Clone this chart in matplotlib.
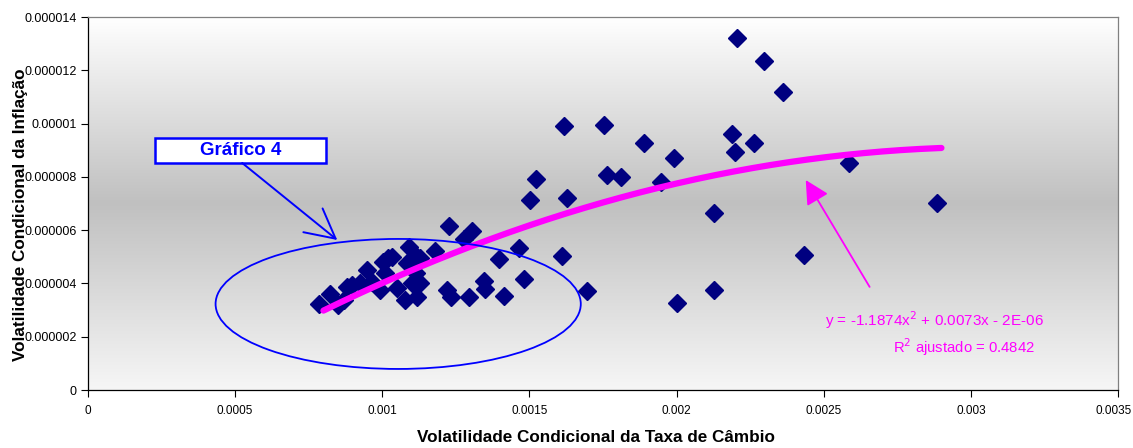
import numpy as np
import matplotlib
matplotlib.use("Agg")
import matplotlib.pyplot as plt
from matplotlib.patches import Ellipse, Rectangle
from matplotlib.colors import LinearSegmentedColormap
from matplotlib.transforms import ScaledTranslation

plt.rcParams['font.family'] = ['Liberation Sans', 'DejaVu Sans']

# Exchange-rate conditional volatility (x) and inflation conditional volatility (y)
cambio = [0.000786, 0.000823, 0.000850, 0.000871, 0.000881, 0.000898, 0.000925, 0.000949,
          0.000966, 0.000993, 0.001003, 0.001010, 0.001020, 0.001034, 0.001051, 0.001078,
          0.001085, 0.001092, 0.001102, 0.001116, 0.001119, 0.001119, 0.001129, 0.001129,
          0.001180, 0.001228, 0.001221, 0.001235, 0.001276, 0.001306, 0.001296, 0.001344,
          0.001350, 0.001395, 0.001415, 0.001463, 0.001483, 0.001503, 0.001524, 0.001612,
          0.001616, 0.001629, 0.001697, 0.001752, 0.001762, 0.001810, 0.001888, 0.001946,
          0.001990, 0.002003, 0.002126, 0.002126, 0.002190, 0.002197, 0.002204, 0.002262,
          0.002296, 0.002361, 0.002432, 0.002585, 0.002884]
inflacao = [3.23e-6, 3.60e-6, 3.19e-6, 3.38e-6, 3.87e-6, 3.94e-6, 4.02e-6, 4.50e-6,
            4.05e-6, 3.75e-6, 4.80e-6, 4.39e-6, 4.95e-6, 4.99e-6, 3.83e-6, 3.38e-6,
            4.77e-6, 5.37e-6, 4.02e-6, 4.39e-6, 4.99e-6, 3.49e-6, 4.95e-6, 4.02e-6,
            5.22e-6, 6.16e-6, 3.75e-6, 3.49e-6, 5.67e-6, 5.97e-6, 3.49e-6, 4.09e-6,
            3.79e-6, 4.92e-6, 3.53e-6, 5.33e-6, 4.17e-6, 7.13e-6, 7.92e-6, 5.03e-6,
            9.91e-6, 7.21e-6, 3.72e-6, 9.95e-6, 8.07e-6, 7.99e-6, 9.27e-6, 7.81e-6,
            8.71e-6, 3.27e-6, 6.64e-6, 3.75e-6, 9.61e-6, 8.93e-6, 13.21e-6, 9.27e-6,
            12.35e-6, 11.18e-6, 5.07e-6, 8.52e-6, 7.02e-6]

# Polynomial trendline (order 2)
coef_a, coef_b, coef_c = -1.1874, 0.0073, -2.1e-6
trend_x_range = (0.0008, 0.0029)

x_ticks = [0, 0.0005, 0.001, 0.0015, 0.002, 0.0025, 0.003, 0.0035]
x_tick_labels = ['0', '0.0005', '0.001', '0.0015', '0.002', '0.0025', '0.003', '0.0035']
y_ticks = [0, 2e-6, 4e-6, 6e-6, 8e-6, 10e-6, 12e-6, 14e-6]
y_tick_labels = ['0', '0.000002', '0.000004', '0.000006', '0.000008', '0.00001', '0.000012', '0.000014']

fig = plt.figure(figsize=(11.33, 4.48), dpi=100)
ax = fig.add_axes([88/1133, 58/448, 1030/1133, 373/448])
ax.set_xlim(0, 0.0035)
ax.set_ylim(0, 14e-6)

# gradient background: light at top/bottom, grey in the middle
cmap = LinearSegmentedColormap.from_list('bg', [(0.0, '#f6f6f6'), (0.5, '#c0c0c0'), (1.0, '#ffffff')])
grad = np.linspace(0, 1, 256).reshape(-1, 1)
ax.imshow(grad, cmap=cmap, aspect='auto', extent=[0, 1, 0, 1], transform=ax.transAxes,
          origin='lower', zorder=0, interpolation='bicubic')

ax.plot(cambio, inflacao, linestyle='none', marker='D', markersize=9,
        color='#000080', markeredgecolor='#000080', zorder=3)

tx = np.linspace(trend_x_range[0], trend_x_range[1], 200)
ty = coef_a * tx**2 + coef_b * tx + coef_c
ax.plot(tx, ty, color='#ff00ff', linewidth=4.5, solid_capstyle='round', zorder=4)

# ellipse highlighting the cluster
ell = Ellipse((0.001054, 3.23e-6), 0.001241, 4.88e-6, fill=False, edgecolor='#0000ff',
              linewidth=1.3, zorder=5)
ax.add_patch(ell)

# "Gráfico 4" callout box
box = Rectangle((0.000228, 8.52e-6), 0.000582, 0.94e-6, facecolor='white',
                edgecolor='#0000ff', linewidth=1.8, zorder=6)
ax.add_patch(box)
ax.text(0.000519, 8.98e-6, 'Gráfico 4', ha='center', va='center', fontsize=13.5,
        fontweight='bold', color='#0000ff', zorder=7)
ax.annotate('', xy=(0.000847, 5.63e-6), xytext=(0.000524, 8.52e-6),
            arrowprops=dict(arrowstyle='->,head_length=2.1,head_width=1.1', color='#0000ff', lw=1.4,
                            shrinkA=0, shrinkB=0, mutation_scale=10),
            zorder=6)

# magenta arrow
ax.annotate('', xy=(0.002439, 7.88e-6), xytext=(0.002656, 3.87e-6),
            arrowprops=dict(arrowstyle='-|>,head_length=1.45,head_width=0.75', color='#ff00ff', lw=1.3,
                            shrinkA=0, shrinkB=0, mutation_scale=10), zorder=6)

ax.text(0.002878, 2.63e-6, 'y = -1.1874x$^{2}$ + 0.0073x - 2E-06', color='#ff00ff', fontsize=11,
        ha='center', va='center', zorder=6)
ax.text(0.002976, 1.62e-6, 'R$^{2}$ ajustado = 0.4842', color='#ff00ff', fontsize=10.7,
        ha='center', va='center', zorder=6)

ax.set_xticks(x_ticks)
ax.set_xticklabels(x_tick_labels)
ax.set_yticks(y_ticks)
ax.set_yticklabels(y_tick_labels)
ax.tick_params(axis='x', labelsize=8.5, length=5, direction='out', width=0.8, pad=6)
ax.tick_params(axis='y', labelsize=9, length=5, direction='out', width=0.8, pad=3)
# keep the last x label inside the figure
last = ax.get_xticklabels()[-1]
last.set_transform(last.get_transform() + ScaledTranslation(-4/100, 0, fig.dpi_scale_trans))

for s in ['top', 'right']:
    ax.spines[s].set_color('#808080')
for s in ['left', 'bottom']:
    ax.spines[s].set_color('#000000')
for s in ax.spines.values():
    s.set_linewidth(0.9)

ax.set_xlabel('Volatilidade Condicional da Taxa de Câmbio', fontsize=12.3, fontweight='bold')
ax.xaxis.set_label_coords(0.493, -0.107)
ax.set_ylabel('Volatilidade Condicional da Inflação', fontsize=12.3, fontweight='bold')
ax.yaxis.set_label_coords(-0.058, 0.47)

fig.savefig('out.png', dpi=100)
